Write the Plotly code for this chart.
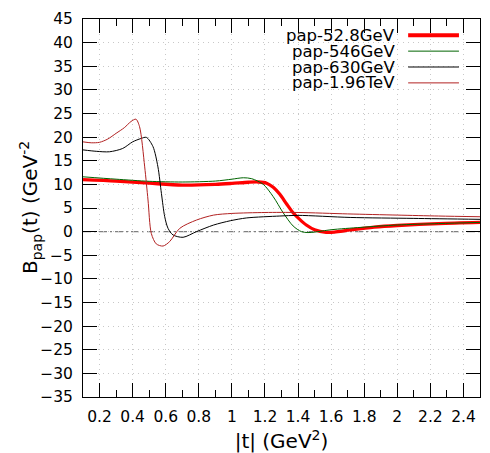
import plotly.graph_objects as go

# ---------------- data ----------------
t_528 = [0.1, 0.3, 0.5, 0.7, 0.9, 1.0, 1.1, 1.16, 1.21, 1.25, 1.29, 1.33, 1.37, 1.41, 1.45, 1.5, 1.57, 1.62, 1.715, 1.86, 2.0, 2.25, 2.5]
b_528 = [11.0, 10.7, 10.25, 9.85, 10.0, 10.2, 10.45, 10.5, 10.25, 9.4, 7.9, 5.9, 4.0, 2.6, 1.4, 0.4, -0.15, -0.1, 0.35, 0.95, 1.3, 1.7, 1.95]

t_546 = [0.1, 0.3, 0.5, 0.7, 0.9, 1.0, 1.07, 1.12, 1.19, 1.25, 1.31, 1.37, 1.42, 1.46, 1.5, 1.6, 1.78, 2.0, 2.25, 2.5]
b_546 = [11.6, 11.1, 10.65, 10.5, 10.7, 11.1, 11.4, 11.2, 10.0, 7.4, 4.0, 1.2, 0.0, -0.2, -0.1, 0.4, 0.9, 1.4, 1.7, 1.95]

t_630 = [0.1, 0.18, 0.26, 0.34, 0.4, 0.45, 0.483, 0.523, 0.553, 0.574, 0.594, 0.614, 0.644, 0.705, 0.786, 0.89, 0.99, 1.09, 1.29, 1.4, 1.715, 2.1, 2.5]
b_630 = [17.3, 17.0, 16.9, 17.6, 19.0, 19.7, 19.95, 18.0, 13.7, 8.1, 3.15, 0.7, -0.7, -1.2, 0.0, 1.4, 2.3, 2.9, 3.3, 3.44, 3.0, 2.8, 2.6]

t_196 = [0.1, 0.15, 0.2, 0.25, 0.3, 0.35, 0.39, 0.42, 0.442, 0.473, 0.493, 0.513, 0.543, 0.584, 0.624, 0.685, 0.786, 0.89, 1.0, 1.2, 1.4, 1.7, 2.0, 2.25, 2.5]
b_196 = [19.0, 18.8, 18.9, 19.6, 20.8, 22.0, 23.3, 23.8, 22.2, 13.7, 6.7, -0.4, -2.6, -3.05, -2.1, 0.7, 2.45, 3.5, 3.85, 4.05, 4.05, 3.75, 3.5, 3.3, 3.15]

names = ["pap-52.8GeV", "pap-546GeV", "pap-630GeV", "pap-1.96TeV"]
colors = ["#ff0000", "#006400", "#000000", "#b22222"]
widths = [3.3, 1.0, 1.0, 1.0]

x_ticks = [0.2, 0.4, 0.6, 0.8, 1.0, 1.2, 1.4, 1.6, 1.8, 2.0, 2.2, 2.4]
x_labels = ["0.2", "0.4", "0.6", "0.8", "1", "1.2", "1.4", "1.6", "1.8", "2", "2.2", "2.4"]
y_ticks = [-35, -30, -25, -20, -15, -10, -5, 0, 5, 10, 15, 20, 25, 30, 35, 40, 45]

FONT = "DejaVu Sans"

fig = go.Figure()
series = [(t_528, b_528), (t_546, b_546), (t_630, b_630), (t_196, b_196)]
for (tx, by), nm, c, w in zip(series, names, colors, widths):
    fig.add_trace(go.Scatter(x=tx, y=by, mode="lines", name=nm,
                             line=dict(color=c, width=w, shape="spline", smoothing=0.8),
                             showlegend=False))

# zero line (dash-dot)
fig.add_shape(type="line", xref="paper", yref="y", x0=0, x1=1, y0=0, y1=0,
              line=dict(color="#808080", width=1.3, dash="8px,3px,2px,3px"), layer="below")

# gnuplot-like key: text right-aligned, sample line on the right
row_y = [0.957, 0.915, 0.873, 0.831]
for nm, c, w, yy in zip(names, colors, widths, row_y):
    fig.add_annotation(xref="paper", yref="paper", x=0.792, y=yy, text=nm,
                       showarrow=False, xanchor="right", yanchor="middle",
                       font=dict(family=FONT, size=16.5, color="black"))
    fig.add_shape(type="line", xref="paper", yref="paper", x0=0.819, x1=0.947,
                  y0=yy, y1=yy, line=dict(color=c, width=w + (0.5 if w > 2 else 0)))

# y-axis title (placed as gnuplot does)
fig.add_annotation(xref="paper", yref="paper", x=(30 - 83) / 397, y=0.5,
                   text="B<sub>pap</sub>(t) (GeV<sup>-2</sup>", textangle=-90,
                   showarrow=False, xanchor="center", yanchor="middle",
                   font=dict(family=FONT, size=20, color="black"))

axis_common = dict(showline=True, linecolor="black", linewidth=1, mirror="allticks",
                   ticks="inside", ticklen=14, tickcolor="black", tickwidth=1,
                   showgrid=True, gridcolor="#c8c8c8", griddash="1px,4px", gridwidth=1,
                   zeroline=False, tickfont=dict(family=FONT, size=15.5, color="black"))

fig.update_xaxes(range=[0.1, 2.5], tickvals=x_ticks, ticktext=x_labels,
                 minor=dict(dtick=0.1, tick0=0.1, ticks="inside", ticklen=7,
                            tickcolor="black", showgrid=False),
                 title=dict(text="|t| (GeV<sup>2</sup>)", font=dict(family=FONT, size=20, color="black"),
                            standoff=13),
                 ticklabelstandoff=5,
                 **axis_common)
fig.update_yaxes(range=[-35, 45], tickvals=y_ticks,
                 ticklabelstandoff=6,
                 **axis_common)

fig.update_layout(width=490, height=453, margin=dict(l=83, r=10, t=19, b=56, autoexpand=False),
                  plot_bgcolor="white", paper_bgcolor="white",
                  font=dict(family=FONT, color="black"))

fig.write_html("out.html")
